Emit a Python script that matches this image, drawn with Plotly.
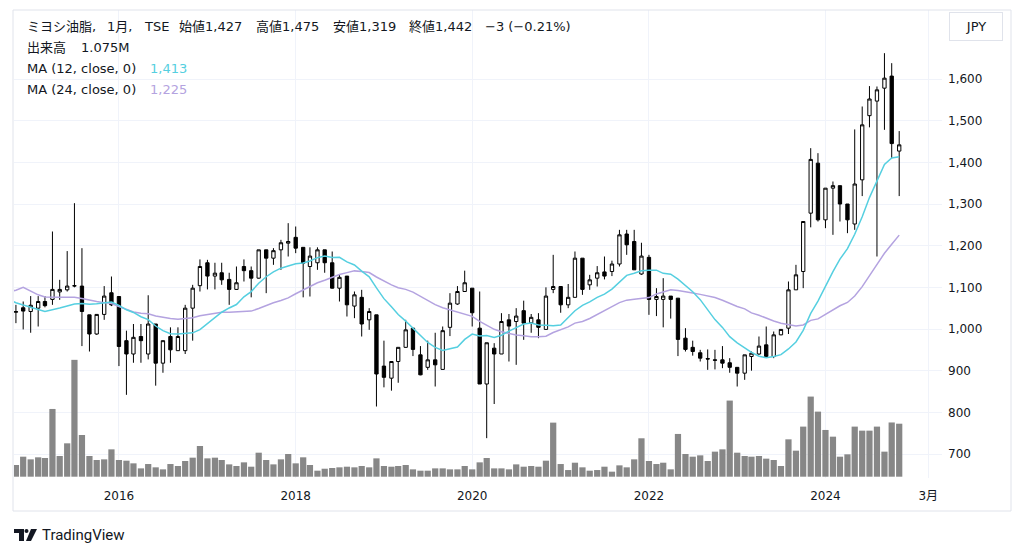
import pandas as pd
import plotly.graph_objects as go

# ---------------- data (monthly, Nov 2014 - Nov 2024) ----------------
start_month = "2014-11-01"

open_ = [1040, 1051, 1042, 1050, 1066, 1071, 1089, 1094, 1103, 1103,
         1034, 988, 1035, 1087, 1078, 972, 940, 982, 940, 1012,
         918, 982, 948, 948, 1050, 1104, 1159, 1127, 1135, 1119,
         1095, 1150, 1140, 1122, 1190, 1170, 1190, 1206, 1220, 1196,
         1150, 1159, 1190, 1159, 1098, 1127, 1055, 1076, 1022, 1034,
         911, 882, 922, 956, 1002, 938, 908, 926, 903, 1004,
         1060, 1090, 1098, 1002, 868, 954, 940, 1022, 1018, 1044,
         1015, 1022, 999, 1095, 1102, 1058, 1076, 1170, 1106, 1122,
         1137, 1138, 1156, 1228, 1210, 1132, 1172, 1071, 1071, 1079,
         1074, 978, 956, 943, 929, 926, 926, 919, 908, 894,
         934, 940, 962, 934, 986, 1002, 1094, 1138, 1278, 1398,
         1262, 1338, 1344, 1300, 1252, 1358, 1512, 1547, 1578, 1607,
         1427]
high = [1058, 1066, 1079, 1079, 1079, 1234, 1118, 1187, 1302, 1194,
        1034, 1036, 1103, 1126, 1078, 996, 1012, 1012, 1081, 1012,
        972, 1004, 1004, 1058, 1106, 1167, 1166, 1159, 1159, 1135,
        1150, 1167, 1150, 1190, 1190, 1194, 1214, 1254, 1246, 1196,
        1196, 1196, 1190, 1186, 1130, 1127, 1090, 1094, 1050, 1034,
        972, 922, 956, 1022, 1002, 959, 972, 991, 1006, 1086,
        1103, 1140, 1098, 1090, 967, 966, 1038, 1036, 1050, 1068,
        1036, 1038, 1100, 1178, 1102, 1108, 1186, 1170, 1130, 1151,
        1174, 1164, 1238, 1238, 1238, 1207, 1178, 1098, 1122, 1079,
        1074, 1002, 972, 950, 951, 950, 959, 930, 908, 938,
        946, 982, 1006, 994, 1000, 1114, 1154, 1258, 1434, 1422,
        1338, 1354, 1344, 1300, 1479, 1534, 1583, 1582, 1662, 1638,
        1475]
low = [1014, 999, 991, 1006, 1052, 1058, 1070, 1090, 1100, 959,
       946, 986, 1022, 1055, 911, 842, 919, 919, 927, 864,
       895, 919, 948, 940, 972, 1090, 1095, 1095, 1106, 1058,
       1094, 1114, 1076, 1121, 1086, 1154, 1142, 1174, 1182, 1076,
       1078, 1142, 1135, 1097, 1066, 1030, 1026, 982, 998, 814,
       860, 852, 871, 955, 935, 889, 902, 862, 903, 983,
       1058, 1090, 1006, 868, 738, 820, 940, 922, 914, 974,
       991, 978, 999, 1086, 1039, 1050, 1076, 1082, 1094, 1102,
       1119, 1127, 1150, 1178, 1142, 1130, 1034, 1031, 1004, 1025,
       935, 946, 936, 922, 902, 903, 906, 895, 862, 878,
       900, 938, 934, 930, 985, 988, 1094, 1098, 1244, 1258,
       1242, 1226, 1258, 1230, 1238, 1319, 1484, 1174, 1478, 1410,
       1319]
close = [1042, 1043, 1057, 1066, 1056, 1095, 1095, 1103, 1104, 1042,
         988, 1035, 1079, 1058, 958, 940, 980, 972, 1012, 918,
         972, 950, 982, 1050, 1098, 1150, 1127, 1134, 1118, 1095,
         1111, 1140, 1122, 1190, 1170, 1188, 1207, 1210, 1194, 1158,
         1175, 1190, 1159, 1098, 1124, 1058, 1082, 1012, 1042, 892,
         884, 922, 956, 998, 951, 890, 926, 914, 996, 1062,
         1090, 1111, 1039, 868, 967, 940, 1018, 1007, 1031, 1014,
         1028, 1004, 1079, 1102, 1058, 1076, 1170, 1095, 1118, 1135,
         1127, 1156, 1226, 1202, 1142, 1175, 1071, 1078, 1079, 1071,
         975, 951, 946, 930, 928, 925, 918, 908, 894, 938,
         942, 959, 934, 986, 999, 1094, 1130, 1258, 1407, 1262,
         1338, 1344, 1300, 1262, 1348, 1490, 1552, 1574, 1602, 1445,
         1442]
volume_m = [0.237, 0.406, 0.352, 0.393, 0.379, 1.374, 0.420, 0.677, 2.370, 0.846,
            0.420, 0.339, 0.352, 0.555, 0.339, 0.325, 0.271, 0.169, 0.257, 0.190,
            0.149, 0.257, 0.217, 0.318, 0.386, 0.623, 0.372, 0.386, 0.339, 0.250,
            0.217, 0.291, 0.203, 0.487, 0.339, 0.250, 0.352, 0.460, 0.271, 0.393,
            0.237, 0.122, 0.162, 0.176, 0.190, 0.203, 0.190, 0.217, 0.190, 0.372,
            0.217, 0.203, 0.217, 0.237, 0.149, 0.122, 0.122, 0.169, 0.169, 0.149,
            0.149, 0.217, 0.149, 0.291, 0.379, 0.169, 0.169, 0.149, 0.250, 0.203,
            0.217, 0.203, 0.325, 1.097, 0.257, 0.135, 0.284, 0.190, 0.122, 0.135,
            0.203, 0.102, 0.230, 0.190, 0.352, 0.779, 0.318, 0.257, 0.284, 0.149,
            0.867, 0.460, 0.406, 0.433, 0.318, 0.508, 0.555, 1.544, 0.487, 0.420,
            0.406, 0.420, 0.366, 0.339, 0.217, 0.758, 0.528, 1.016, 1.625, 1.320,
            0.948, 0.812, 0.406, 0.454, 1.016, 0.934, 0.934, 1.016, 0.508, 1.100,
            1.075]
# closes of the 24 months before the visible window (Nov 2012 - Oct 2014),
# estimated from the moving-average lines; only used to compute the MAs
prior_close = [960, 875, 1249, 1306, 1176, 1119, 1095, 1103, 1104, 1114,
               1084, 1107, 1144, 1110, 1130, 1120, 1114, 1050, 1040, 1045,
               1046, 1025, 1015, 1019]

x_tick_dates = ["2016-01-01", "2018-01-01", "2020-01-01", "2022-01-01",
                "2024-01-01", "2025-03-01"]
x_tick_text = ["2016", "2018", "2020", "2022", "2024", "3月"]
price_ticks = [700, 800, 900, 1000, 1100, 1200, 1300, 1400, 1500, 1600]

# legend (header) texts
title_parts = ["ミヨシ油脂,", "1月,", "TSE"]
ohlc_items = ["始値1,427", "高値1,475", "安値1,319", "終値1,442", "−3 (−0.21%)"]
volume_label, volume_value = "出来高", "1.075M"
ma_labels = ["MA (12, close, 0)", "MA (24, close, 0)"]
ma_values = ["1,413", "1,225"]

# ---------------- derived ----------------
months = pd.date_range(start_month, periods=len(close), freq="MS")
ma_months = pd.date_range(months[0] - pd.DateOffset(months=1),
                          periods=len(close) + 1, freq="MS")
all_close = pd.Series(prior_close + close, dtype=float)
ma12 = all_close.rolling(12).mean().iloc[-(len(close) + 1):].tolist()
ma24 = all_close.rolling(24).mean().iloc[-(len(close) + 1):].tolist()

# ---------------- layout geometry (pixels) ----------------
W, H = 1024, 557
PL, PR, PT, PB = 14, 942, 10, 478


def px(x):
    return (x - PL) / (PR - PL)


def py(y):
    return (PB - y) / (PB - PT)


TXT = "#131722"
GRID = "#f0f3fa"
BORDER = "#e0e3eb"
CYAN = "#55cfe0"
PURPLE = "#b4a3e0"
FONT = "'DejaVu Sans', 'Noto Sans CJK JP', sans-serif"
LOGO_FONT = "Roboto, sans-serif"

fig = go.Figure()

fig.add_trace(go.Bar(
    x=months, y=volume_m, yaxis="y2",
    marker=dict(color="#878787", line=dict(width=0)),
    hoverinfo="skip", showlegend=False,
))

fig.add_trace(go.Candlestick(
    x=months, open=open_, high=high, low=low, close=close,
    increasing=dict(fillcolor="#ffffff", line=dict(color="#000000", width=1)),
    decreasing=dict(fillcolor="#000000", line=dict(color="#000000", width=1)),
    whiskerwidth=0, hoverinfo="skip", showlegend=False,
))

fig.add_trace(go.Scatter(
    x=ma_months, y=ma24, mode="lines",
    line=dict(color=PURPLE, width=1.5), hoverinfo="skip", showlegend=False,
))
fig.add_trace(go.Scatter(
    x=ma_months, y=ma12, mode="lines",
    line=dict(color=CYAN, width=1.5), hoverinfo="skip", showlegend=False,
))

# y pixel -> price mapping: 1600 at y=79, 100 per 41.667 px
p_top = 1600 + (79 - PT) * 2.4
p_bot = 1600 - (PB - 79) * 2.4
# volume: baseline at y=476.7, 1.075M = 53 px
vol_per_px = 1.075 / 53.0
v_bot = -(PB - 476.7) * vol_per_px
v_top = v_bot + (PB - PT) * vol_per_px

fig.update_layout(
    width=W, height=H,
    margin=dict(l=PL, r=W - PR, t=PT, b=H - PB),
    paper_bgcolor="#ffffff", plot_bgcolor="#ffffff",
    font=dict(family=FONT, color=TXT, size=12),
    bargap=0.08,
    showlegend=False,
    hovermode=False,
    xaxis=dict(
        type="date",
        range=["2014-10-24", "2025-04-27"],
        tickvals=x_tick_dates, ticktext=x_tick_text,
        showgrid=True, gridcolor=GRID, gridwidth=1,
        zeroline=False, showline=False, ticks="",
        ticklabelstandoff=9,
        tickfont=dict(family=FONT, size=12, color=TXT),
        rangeslider=dict(visible=False),
        fixedrange=True,
    ),
    yaxis=dict(
        side="right",
        range=[p_bot, p_top],
        tickvals=price_ticks, tickformat=",",
        showgrid=True, gridcolor=GRID, gridwidth=1,
        zeroline=False, showline=False, ticks="",
        ticklabelstandoff=5,
        tickfont=dict(family=FONT, size=12, color=TXT),
        fixedrange=True,
    ),
    yaxis2=dict(
        overlaying="y", range=[v_bot, v_top],
        visible=False, showgrid=False, fixedrange=True,
    ),
)


def label(x, y, text, color=TXT, size=13):
    fig.add_annotation(
        xref="paper", yref="paper", x=px(x), y=py(y),
        xanchor="left", yanchor="middle", text=text, showarrow=False,
        font=dict(family=FONT, size=size, color=color),
    )


# header legend, one piece per group
for xs, t in zip([25, 105, 142], title_parts):
    label(xs, 27, t)
for xs, t in zip([177, 254, 331, 407, 483], ohlc_items):
    label(xs, 27, t)
label(25, 47, volume_label)
label(79, 47, volume_value)
for yy, lab, val, col in zip([68, 90], ma_labels, ma_values, [CYAN, PURPLE]):
    label(25, yy, lab)
    label(148, yy, val, color=col)

# currency button
fig.add_annotation(
    xref="paper", yref="paper", x=px(976), y=py(27),
    xanchor="center", yanchor="middle", text="JPY", showarrow=False,
    font=dict(family=FONT, size=13, color=TXT),
    bordercolor=BORDER, borderwidth=1, borderpad=5,
    width=42, height=17, bgcolor="#ffffff",
)

# widget frame
fig.add_shape(type="rect", xref="paper", yref="paper",
              x0=px(13), x1=px(1011), y0=py(511), y1=py(PT),
              line=dict(color=BORDER, width=1), layer="above")


# TradingView logo (simplified) + wordmark
def path_px(points):
    return "M " + " L ".join("%f,%f" % (px(a), py(b)) for a, b in points) + " Z"


fig.add_shape(type="path", xref="paper", yref="paper",
              path=path_px([(14, 529), (24, 529), (24, 541), (19, 541), (19, 533), (14, 533)]),
              fillcolor=TXT, line=dict(width=0))
fig.add_shape(type="circle", xref="paper", yref="paper",
              x0=px(24.5), x1=px(28.5), y0=py(533), y1=py(529),
              fillcolor=TXT, line=dict(width=0))
fig.add_shape(type="path", xref="paper", yref="paper",
              path=path_px([(31, 529), (37, 529), (31, 541), (26, 541)]),
              fillcolor=TXT, line=dict(width=0))
fig.add_annotation(
    xref="paper", yref="paper", x=px(40), y=py(535),
    xanchor="left", yanchor="middle", text="TradingView", showarrow=False,
    font=dict(family=LOGO_FONT, size=15, color=TXT),
)

fig.write_html("out.html", config={"displayModeBar": False},
               post_script="document.body.style.margin='0';")
